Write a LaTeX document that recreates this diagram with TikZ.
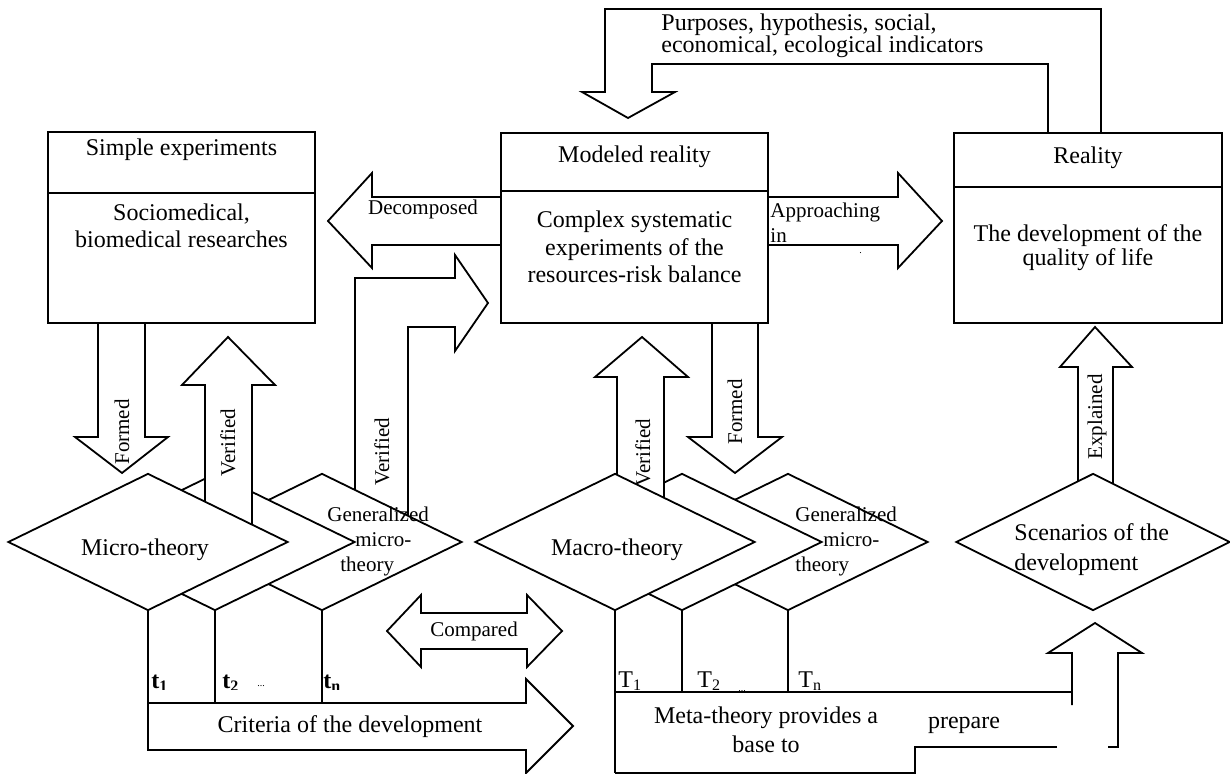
\documentclass[tikz,border=0pt]{standalone}
\usepackage{fontspec}
\setmainfont{Liberation Serif}
\usetikzlibrary{shapes.geometric}
\begin{document}
\begin{tikzpicture}[x=0.5pt,y=-0.5pt,
  ln/.style={line width=0.9pt,line join=miter,line cap=butt},
  blk/.style={ln,draw=black,fill=white},
  box/.style={ln,draw=black,fill=white,rectangle,inner sep=0pt},
  dia/.style={ln,draw=black,fill=white,diamond,inner sep=0pt,minimum width=140pt,minimum height=68.5pt},
  big/.style={inner sep=0pt,font=\fontsize{12}{13.5}\selectfont,align=center},
  sml/.style={inner sep=0pt,font=\fontsize{10.5}{12.5}\selectfont},
  rot/.style={sml,rotate=90},
  tiny/.style={inner sep=0pt,font=\fontsize{5}{6}\selectfont,anchor=base west}
]
\useasboundingbox (0,0) rectangle (1230,774);

% boxes
\node[box,minimum width=133.5pt,minimum height=95.5pt] (simple) at (181.5,227.5) {};
\draw[ln] (48,193) -- (315,193);
\node[big] (simpleT) at (181.5,150) {Simple experiments};
\node[big] (simpleB) at (181.5,226) {Sociomedical,\\biomedical researches};

\node[box,minimum width=133.5pt,minimum height=95pt] (modeled) at (634.5,228) {};
\draw[ln] (501,191) -- (768,191);
\node[big] (modeledT) at (634.5,157) {Modeled reality};
\node[big,font=\fontsize{12}{13.75}\selectfont] (modeledB) at (634.5,247) {Complex systematic\\experiments of the\\resources-risk balance};

\node[box,minimum width=134pt,minimum height=95pt] (reality) at (1088,228) {};
\draw[ln] (954,187) -- (1222,187);
\node[big] (realityT) at (1088,158) {Reality};
\node[big,font=\fontsize{12}{12}\selectfont] (realityB) at (1088,248) {The development of the\\quality of life};

% top bent arrow
\draw[ln] (1101,133) -- (1101,9) -- (605,9) -- (605,92) -- (582,92) -- (628,118) -- (675,92) -- (652,92) -- (652,64) -- (1048,64) -- (1048,133);
\node[big,align=left,anchor=west,font=\fontsize{12}{11}\selectfont] (purp) at (661,36) {Purposes, hypothesis, social,\\economical, ecological indicators};

% decomposed / approaching
\draw[ln] (501,197) -- (372,197) -- (372,173) -- (328,221) -- (372,268) -- (372,245) -- (501,245);
\node[sml] (dec) at (423,209) {Decomposed};
\draw[ln] (768,197) -- (898,197) -- (898,173) -- (942,221) -- (898,268) -- (898,245) -- (768,245);
\node[sml,align=left,anchor=west] (appr) at (770,223) {Approaching\\in};
\node[tiny] (dot) at (859,254) {.};

% left group
\draw[blk] (355,530) -- (355,278) -- (455,278) -- (455,255) -- (488,303) -- (455,351) -- (455,327) -- (408,327) -- (408,530) -- cycle;
\node[rot] (ver2) at (382,452) {Verified};
\draw[ln] (98,323) -- (98,437) -- (75,437) -- (122,473) -- (168,437) -- (145,437) -- (145,323);
\node[rot] (form1) at (122,432) {Formed};
\node[dia] (micro3) at (322,542) {};
\node[dia] (micro2) at (215,542) {};
\draw[blk] (205,530) -- (205,385) -- (182,385) -- (228,337) -- (275,385) -- (252,385) -- (252,530) -- cycle;
\node[rot] (ver1) at (228,443) {Verified};
\node[dia] (micro1) at (148,542) {};
\node[big] (microT) at (145,550) {Micro-theory};
\node[sml,align=left,anchor=west] (gen1) at (327,541) {Generalized\\\hspace*{14pt}micro-\\\hspace*{6.5pt}theory};

% middle group
\draw[ln] (712,323) -- (712,437) -- (688,437) -- (735,473) -- (782,437) -- (758,437) -- (758,323);
\node[rot] (form2) at (735,412) {Formed};
\node[dia] (macro3) at (788,542) {};
\node[dia] (macro2) at (682,542) {};
\draw[blk] (617,530) -- (617,377) -- (595,377) -- (642,337) -- (688,377) -- (664,377) -- (664,530) -- cycle;
\node[rot] (ver3) at (643,453) {Verified};
\node[dia] (macro1) at (615,542) {};
\node[big] (macroT) at (617,550) {Macro-theory};
\node[sml,align=left,anchor=west] (gen2) at (795,541) {Generalized\\\hspace*{14pt}micro-\\theory};

% scenarios
\draw[blk] (1078,530) -- (1078,367) -- (1060,367) -- (1095,327) -- (1132,367) -- (1113,367) -- (1113,530) -- cycle;
\node[rot] (expl) at (1097,417) {Explained};
\node[dia,minimum width=137pt] (scen) at (1093,542) {};
\node[big,align=left,anchor=west,font=\fontsize{12}{15}\selectfont] (scenT) at (1014,550) {Scenarios of the\\development};

% compared
\draw[blk] (387,631) -- (421,595) -- (421,613) -- (527,613) -- (527,595) -- (562,631) -- (527,667) -- (527,649) -- (421,649) -- (421,667) -- cycle;
\node[sml] (comp) at (474,631) {Compared};

% t labels
\begin{scope}
\clip (140,600) rectangle (360,689);
\node[big,anchor=base west] (t1) at (151,688) {\textbf{t\textsubscript{1}}};
\node[big,anchor=base west] (t2) at (222,688) {\textbf{t\textsubscript{2}}};
\node[big,anchor=base west] (tn) at (323,688) {\textbf{t\textsubscript{n}}};
\end{scope}
\node[tiny] (tdots) at (257,686) {...};

% T labels
\begin{scope}
\clip (600,600) rectangle (850,691);
\node[big,anchor=base west] (T1) at (618,687) {T\textsubscript{1}};
\node[big,anchor=base west] (T2) at (697,687) {T\textsubscript{2}};
\node[big,anchor=base west] (Tn) at (798,687) {T\textsubscript{n}};
\end{scope}
\node[tiny] (Tdots) at (738,691) {...};

% criteria arrow
\draw[blk] (148,703) -- (526,703) -- (526,679) -- (573,726) -- (526,773) -- (526,750) -- (148,750) -- cycle;
\node[big] (crit) at (350,727) {Criteria of the development};
\draw[ln] (micro1.south) -- (148,703);
\draw[ln] (micro2.south) -- (215,703);
\draw[ln] (micro3.south) -- (322,703);

% meta-theory shape
\draw[ln] (macro1.south) -- (615,773);
\draw[ln] (macro2.south) -- (682,692);
\draw[ln] (macro3.south) -- (788,692);
\draw[ln] (615,692) -- (1072,692);
\draw[ln] (1072,705) -- (1072,653) -- (1048,653) -- (1095,623) -- (1142,653) -- (1118,653) -- (1118,747) -- (1108,747);
\draw[ln] (1057,747) -- (915,747) -- (915,773) -- (615,773);
\node[big,font=\fontsize{12}{14.5}\selectfont] (meta) at (766,730) {Meta-theory provides a\\base to};
\node[big] (prep) at (964,725) {prepare};
\end{tikzpicture}
\end{document}
